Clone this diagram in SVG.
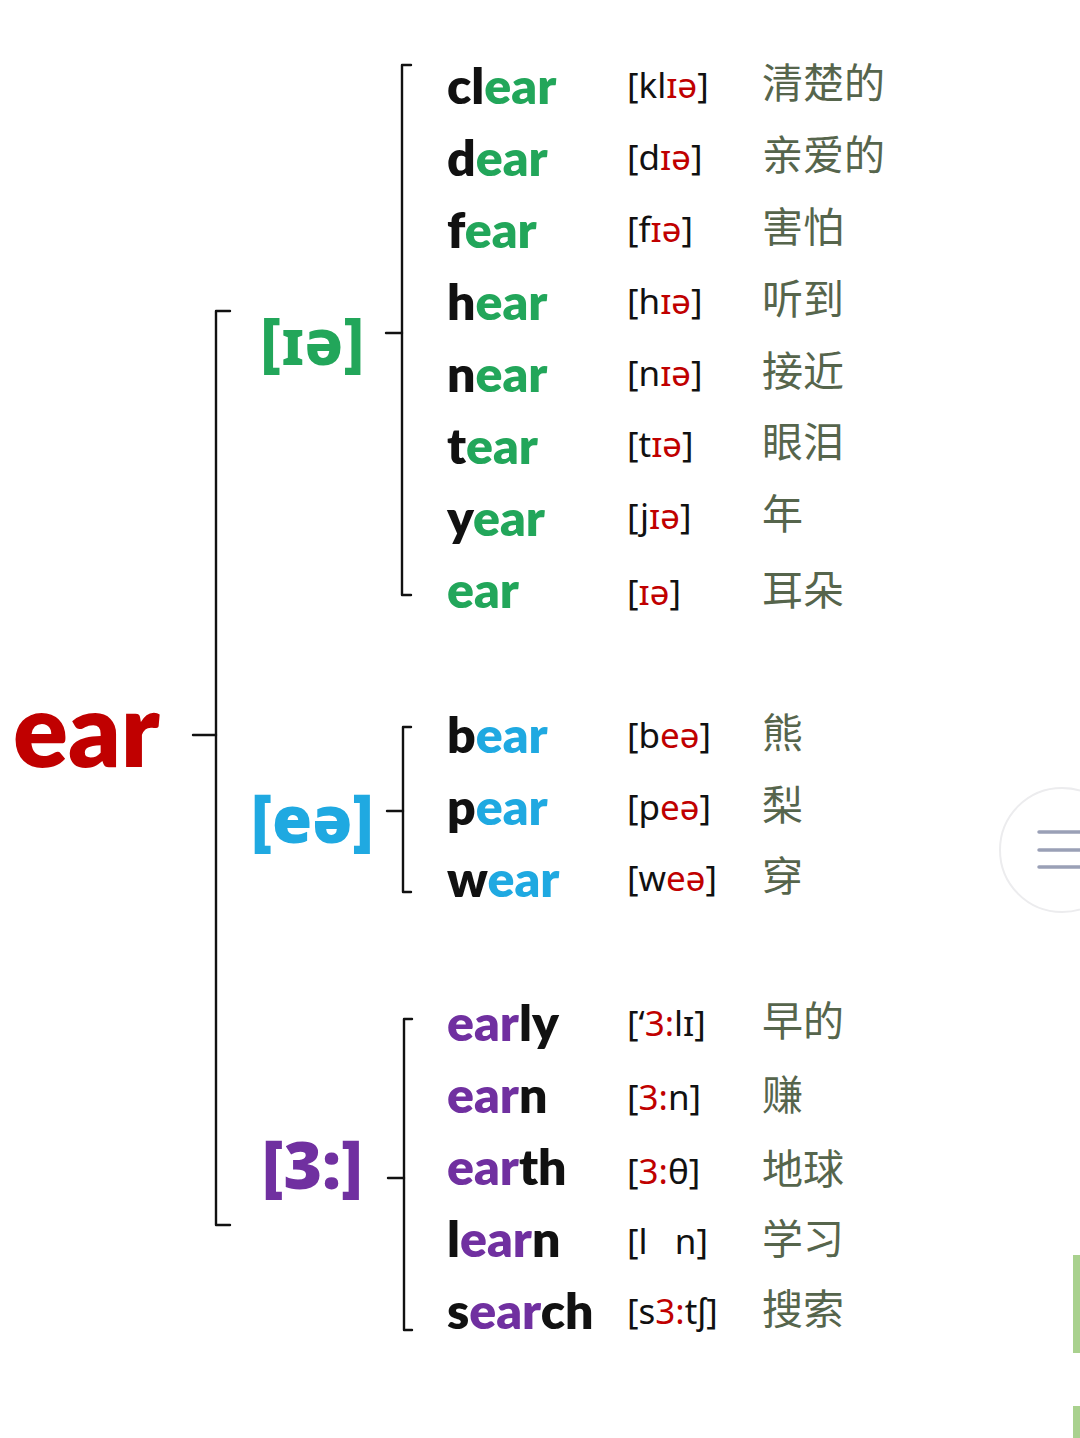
<svg xmlns="http://www.w3.org/2000/svg" width="1080" height="1438" viewBox="0 0 1080 1438">
<style>
.w{font-family:Lato,"Open Sans","Noto Sans",sans-serif;font-weight:800;font-size:50px;fill:#111}
.p{font-family:"Noto Sans","DejaVu Sans",sans-serif;font-size:35px;fill:#111;white-space:pre}
.c{font-family:"Noto Sans CJK SC","Noto Sans",sans-serif;font-size:41px;fill:#56654c}
.g{fill:#22a65a}.b{fill:#1fa9e1}.v{fill:#7030a0}.r{fill:#c00000}
.br{fill:none;stroke:#111;stroke-width:2.4;stroke-linecap:round;stroke-linejoin:round}
.rt{font-family:Lato,"Open Sans",sans-serif;font-weight:800;font-size:102px;fill:#c00000}
.lb{font-family:"Open Sans","Noto Sans",sans-serif;font-weight:800}
.li{font-family:"Noto Sans","DejaVu Sans",sans-serif;font-weight:800}
</style>
<rect width="1080" height="1438" fill="#ffffff"/>
<g id="ui">
<circle cx="1062" cy="850" r="62" fill="#ffffff" stroke="#ececee" stroke-width="2"/>
<g stroke="#9aa0b6" stroke-width="3.5" stroke-linecap="round">
<line x1="1039" y1="832" x2="1080" y2="832"/>
<line x1="1039" y1="850" x2="1080" y2="850"/>
<line x1="1039" y1="867" x2="1080" y2="867"/>
</g>
<rect x="1073" y="1255" width="7" height="98" fill="#a9d18e"/>
<rect x="1073" y="1406" width="7" height="32" fill="#a9d18e"/>
</g>
<g id="connectors">
<path class="br" d="M230,311 H216 V1225 H230"/>
<line class="br" x1="193" y1="735" x2="216" y2="735"/>
<path class="br" d="M411,65 H402 V595 H411"/>
<line class="br" x1="386" y1="333" x2="402" y2="333"/>
<path class="br" d="M411,727 H403 V892 H411"/>
<line class="br" x1="387" y1="811" x2="403" y2="811"/>
<path class="br" d="M412,1019 H404 V1330 H412"/>
<line class="br" x1="388" y1="1178" x2="404" y2="1178"/>
</g>
<g id="root"><text class="rt" x="13" y="767">ear</text></g>
<g id="s1"><text class="li" x="260" y="365" font-size="64" fill="#22a65a">[ɪə]</text></g>
<g id="s2"><text class="lb" x="251" y="843" font-size="65" fill="#1fa9e1">[eə]</text></g>
<g id="s3"><text class="lb" x="262" y="1189" font-size="66" fill="#7030a0">[3:]</text></g>
<g id="g1">
<g id="clear"><text class="w" x="447" y="104">cl<tspan class="g">ear</tspan></text><text class="p" x="627" y="98">[kl<tspan class="r">ɪə</tspan>]</text><text class="c" x="762" y="98">清楚的</text></g>
<g id="dear"><text class="w" x="447" y="176">d<tspan class="g">ear</tspan></text><text class="p" x="627" y="170">[d<tspan class="r">ɪə</tspan>]</text><text class="c" x="762" y="170">亲爱的</text></g>
<g id="fear"><text class="w" x="447" y="248">f<tspan class="g">ear</tspan></text><text class="p" x="627" y="242">[f<tspan class="r">ɪə</tspan>]</text><text class="c" x="762" y="242">害怕</text></g>
<g id="hear"><text class="w" x="447" y="320">h<tspan class="g">ear</tspan></text><text class="p" x="627" y="314">[h<tspan class="r">ɪə</tspan>]</text><text class="c" x="762" y="314">听到</text></g>
<g id="near"><text class="w" x="447" y="392">n<tspan class="g">ear</tspan></text><text class="p" x="627" y="386">[n<tspan class="r">ɪə</tspan>]</text><text class="c" x="762" y="386">接近</text></g>
<g id="tear"><text class="w" x="447" y="464">t<tspan class="g">ear</tspan></text><text class="p" x="627" y="457">[t<tspan class="r">ɪə</tspan>]</text><text class="c" x="762" y="457">眼泪</text></g>
<g id="year"><text class="w" x="447" y="536">y<tspan class="g">ear</tspan></text><text class="p" x="627" y="529">[j<tspan class="r">ɪə</tspan>]</text><text class="c" x="762" y="529">年</text></g>
<g id="ear1"><text class="w" x="447" y="608"><tspan class="g">ear</tspan></text><text class="p" x="627" y="605">[<tspan class="r">ɪə</tspan>]</text><text class="c" x="762" y="605">耳朵</text></g>
</g>
<g id="g2">
<g id="bear"><text class="w" x="447" y="753">b<tspan class="b">ear</tspan></text><text class="p" x="627" y="748">[b<tspan class="r">eə</tspan>]</text><text class="c" x="762" y="748">熊</text></g>
<g id="pear"><text class="w" x="447" y="825">p<tspan class="b">ear</tspan></text><text class="p" x="627" y="820">[p<tspan class="r">eə</tspan>]</text><text class="c" x="762" y="820">梨</text></g>
<g id="wear"><text class="w" x="447" y="897">w<tspan class="b">ear</tspan></text><text class="p" x="627" y="891">[w<tspan class="r">eə</tspan>]</text><text class="c" x="762" y="891">穿</text></g>
</g>
<g id="g3">
<g id="early"><text class="w" x="447" y="1041"><tspan class="v">ear</tspan>ly</text><text class="p" x="627" y="1036">[‘<tspan class="r">3:</tspan>lɪ]</text><text class="c" x="762" y="1036">早的</text></g>
<g id="earn"><text class="w" x="447" y="1113"><tspan class="v">ear</tspan>n</text><text class="p" x="627" y="1110">[<tspan class="r">3:</tspan>n]</text><text class="c" x="762" y="1110">赚</text></g>
<g id="earth"><text class="w" x="447" y="1185"><tspan class="v">ear</tspan>th</text><text class="p" x="627" y="1184">[<tspan class="r">3:</tspan>θ]</text><text class="c" x="762" y="1184">地球</text></g>
<g id="learn"><text class="w" x="447" y="1257">l<tspan class="v">ear</tspan>n</text><text class="p" x="627" y="1254">[l   n]</text><text class="c" x="762" y="1254">学习</text></g>
<g id="search"><text class="w" x="447" y="1329">s<tspan class="v">ear</tspan>ch</text><text class="p" x="627" y="1324">[s<tspan class="r">3:</tspan>tʃ]</text><text class="c" x="762" y="1324">搜索</text></g>
</g>
</svg>
